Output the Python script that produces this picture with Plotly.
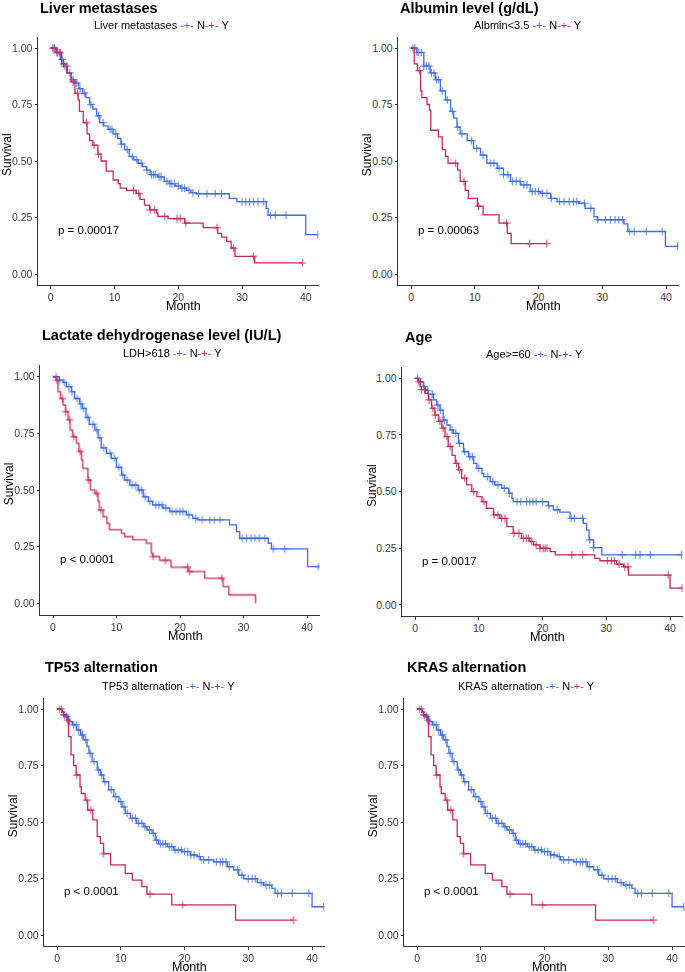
import numpy as np
import plotly.graph_objects as go

W, H = 685, 972
BLUE = "#3e6ee0"
RED = "#c32a5b"
FONT = "Liberation Sans"

# ---------------- data ----------------
titles = ["Liver metastases", "Albumin level (g/dL)", "Lactate dehydrogenase level (IU/L)",
          "Age", "TP53 alternation", "KRAS alternation"]
legend_titles = ["Liver metastases", "Albmin<3.5", "LDH>618", "Age>=60",
                 "TP53 alternation", "KRAS alternation"]
group_labels = ["N", "Y"]
pvalues = ["p = 0.00017", "p = 0.00063", "p < 0.0001", "p = 0.0017", "p < 0.0001", "p < 0.0001"]
x_ticks = [0, 10, 20, 30, 40]
y_ticks = [0.0, 0.25, 0.5, 0.75, 1.0]

# Liver metastases
liver_N_t = [0, 0.8, 1.5, 2.0, 2.6, 3.2, 3.8, 4.4, 5.0, 5.5, 6.1, 6.6, 7.2, 7.7, 8.3, 9.0, 9.8, 10.5, 11.0,
             11.6, 12.3, 13.0, 13.7, 14.4, 15.0, 15.6, 16.8, 17.8, 18.6, 19.5, 20.4, 21.3, 22.0, 22.8, 28.0,
             29.2, 33.8, 34.1, 40.0]
liver_N_s = [1, 0.98, 0.95, 0.92, 0.89, 0.86, 0.845, 0.82, 0.80, 0.78, 0.75, 0.73, 0.70, 0.67, 0.655, 0.64,
             0.62, 0.60, 0.575, 0.55, 0.52, 0.505, 0.49, 0.475, 0.46, 0.44, 0.43, 0.41, 0.40, 0.39, 0.38, 0.37,
             0.36, 0.355, 0.335, 0.32, 0.29, 0.26, 0.174]
liver_N_cens = [0.3, 0.6, 1.0, 1.3, 1.8, 2.2, 2.5, 3.0, 3.5, 4.1, 4.6, 5.3, 6.3, 7.5, 8.2, 9.3, 9.6, 10.2, 11.1,
                12.0, 12.8, 13.5, 14.2, 15.1, 15.8, 16.1, 16.4, 17.0, 17.3, 18.2, 18.7, 19.0, 19.4, 20.0, 20.6,
                21.0, 21.7, 22.3, 23.2, 24.5, 25.8, 26.8, 30.0, 30.6, 31.2, 31.8, 32.5, 33.4, 34.5, 35.2, 36.9,
                41.9]
liver_Y_t = [0, 0.9, 1.7, 2.5, 3.2, 3.8, 4.3, 4.5, 5.1, 5.7, 6.1, 6.6, 7.4, 7.9, 8.7, 9.8, 10.6, 10.9, 11.9,
             13.4, 14.0, 14.7, 15.5, 16.6, 16.8, 18.4, 21.0, 23.9, 26.2, 26.8, 27.6, 28.3, 28.9, 32.0]
liver_Y_s = [1, 0.98, 0.93, 0.89, 0.85, 0.80, 0.77, 0.72, 0.67, 0.62, 0.59, 0.57, 0.53, 0.50, 0.455, 0.416,
             0.40, 0.38, 0.37, 0.357, 0.33, 0.305, 0.284, 0.27, 0.255, 0.245, 0.225, 0.205, 0.18, 0.163,
             0.144, 0.115, 0.078, 0.049]
liver_Y_cens = [0.5, 1.0, 1.5, 2.0, 3.5, 4.2, 5.6, 6.8, 7.5, 13.0, 13.8, 15.6, 16.3, 17.9, 19.8, 20.3, 21.2,
                26.1, 28.7, 31.8, 39.5]

# Albumin
alb_N_t = [0, 0.9, 2.0, 3.0, 3.8, 4.6, 5.4, 6.2, 6.7, 7.2, 7.7, 8.8, 9.8, 10.9, 11.9, 13.5, 14.5, 15.6, 17.2,
           18.7, 20.3, 21.9, 22.9, 26.3, 27.3, 28.7, 29.2, 33.4, 34.0, 39.9]
alb_N_s = [1, 0.98, 0.92, 0.89, 0.86, 0.81, 0.77, 0.72, 0.69, 0.65, 0.62, 0.59, 0.556, 0.526, 0.49, 0.468,
           0.44, 0.41, 0.394, 0.365, 0.357, 0.335, 0.32, 0.313, 0.29, 0.254, 0.24, 0.222, 0.188, 0.122]
alb_N_cens = [0.3, 0.6, 0.9, 1.2, 1.6, 2.0, 2.4, 2.8, 3.2, 3.6, 4.0, 4.3, 4.9, 5.7, 6.5, 7.3, 8.0, 9.5, 10.3,
              11.3, 12.5, 13.0, 13.8, 14.5, 15.2, 15.9, 16.5, 17.1, 17.7, 18.2, 19.0, 19.5, 20.0, 20.6, 21.3,
              22.0, 23.3, 24.0, 24.8, 25.5, 26.0, 27.2, 28.2, 29.3, 30.5, 31.3, 32.0, 32.6, 33.2, 34.3, 35.0,
              36.9, 39.4, 41.8]
alb_Y_t = [0, 0.5, 1.0, 1.5, 1.7, 2.5, 2.9, 3.1, 4.3, 4.9, 5.4, 5.8, 7.3, 7.7, 8.5, 9.0, 10.4, 11.3, 13.8,
           15.1, 15.7]
alb_Y_s = [1, 0.93, 0.90, 0.81, 0.78, 0.75, 0.725, 0.636, 0.607, 0.55, 0.52, 0.49, 0.46, 0.41, 0.37, 0.335,
           0.30, 0.262, 0.225, 0.18, 0.134]
alb_Y_cens = [1.3, 7.0, 8.3, 10.6, 15.0, 18.6, 21.3]

# LDH
ldh_N_t = [0, 1.0, 1.6, 2.1, 2.9, 3.4, 4.2, 4.6, 5.2, 5.7, 6.6, 7.1, 7.6, 8.4, 9.2, 10.0, 10.8, 11.3, 12.1,
           13.4, 14.2, 15.0, 15.7, 17.3, 18.4, 21.0, 22.0, 22.8, 27.8, 28.9, 29.4, 33.9, 34.4, 40.1]
ldh_N_s = [1, 0.985, 0.975, 0.956, 0.934, 0.904, 0.88, 0.86, 0.82, 0.79, 0.765, 0.73, 0.686, 0.662, 0.64, 0.60,
           0.566, 0.544, 0.522, 0.50, 0.47, 0.45, 0.434, 0.42, 0.405, 0.39, 0.375, 0.368, 0.346, 0.316, 0.287,
           0.265, 0.24, 0.162]
ldh_N_cens = [0.5, 1.0, 1.8, 2.5, 3.0, 3.8, 4.4, 4.8, 5.5, 6.3, 6.9, 7.4, 8.0, 9.0, 9.7, 10.4, 11.0, 11.7, 12.5,
              13.0, 13.6, 14.0, 14.5, 15.3, 16.2, 16.7, 17.2, 17.8, 18.8, 19.4, 20.0, 20.5, 21.4, 22.5, 23.5,
              24.7, 25.4, 26.3, 29.8, 30.5, 31.2, 31.8, 32.5, 33.4, 34.7, 36.5, 41.8]
ldh_Y_t = [0, 0.5, 0.8, 1.2, 1.6, 2.0, 2.4, 2.7, 3.1, 3.7, 4.1, 4.5, 4.7, 5.5, 5.9, 6.6, 7.1, 7.3, 7.9, 8.5,
           8.9, 10.8, 11.3, 12.6, 14.7, 15.5, 15.7, 16.8, 18.6, 21.3, 23.9, 26.8, 27.7, 31.9]
ldh_Y_s = [1, 0.985, 0.934, 0.904, 0.875, 0.845, 0.81, 0.765, 0.735, 0.706, 0.67, 0.632, 0.596, 0.544, 0.50,
           0.485, 0.45, 0.412, 0.382, 0.353, 0.324, 0.309, 0.294, 0.28, 0.265, 0.22, 0.206, 0.19, 0.159, 0.14,
           0.11, 0.074, 0.037, 0.0]
ldh_Y_cens = [0.6, 1.5, 2.0, 2.6, 3.3, 4.3, 5.6, 6.9, 7.6, 15.8, 17.7, 21.2, 21.5, 26.6]

# Age
age_N_t = [0, 0.8, 1.3, 1.6, 2.1, 2.9, 3.4, 3.9, 4.4, 5.0, 5.5, 6.0, 6.8, 7.6, 8.4, 9.2, 9.7, 10.5, 10.8,
           11.8, 12.5, 13.6, 14.7, 15.2, 15.4, 20.9, 21.7, 22.7, 24.3, 26.4, 26.9, 27.3, 28.0, 29.3, 34.0]
age_N_s = [1, 0.985, 0.963, 0.946, 0.93, 0.905, 0.882, 0.86, 0.816, 0.794, 0.772, 0.757, 0.713, 0.676, 0.654,
           0.625, 0.603, 0.58, 0.566, 0.544, 0.53, 0.515, 0.493, 0.47, 0.456, 0.437, 0.42, 0.41, 0.382, 0.36,
           0.33, 0.287, 0.253, 0.221, 0.221]
age_N_cens = [0.4, 0.9, 1.4, 2.0, 2.7, 3.6, 4.0, 4.6, 5.8, 6.4, 7.0, 7.8, 8.6, 9.0, 10.0, 11.4, 12.2, 13.0,
              14.0, 14.8, 16.0, 16.6, 17.5, 18.0, 18.5, 19.0, 20.0, 21.0, 22.3, 24.5, 25.0, 26.3, 27.4, 28.0,
              32.5, 34.6, 35.3, 36.9, 41.8]
age_Y_t = [0, 0.5, 0.8, 1.0, 1.6, 2.1, 2.6, 3.1, 3.7, 4.2, 4.7, 5.2, 5.8, 6.3, 6.8, 7.3, 8.1, 8.9, 9.7, 10.5,
           11.2, 12.3, 13.3, 14.4, 15.4, 16.7, 18.0, 18.6, 19.6, 21.2, 22.0, 28.2, 29.0, 31.6, 32.7, 33.5, 40.0]
age_Y_s = [1, 0.985, 0.963, 0.95, 0.934, 0.905, 0.868, 0.838, 0.81, 0.78, 0.743, 0.70, 0.66, 0.625, 0.596,
           0.56, 0.53, 0.50, 0.478, 0.456, 0.426, 0.397, 0.382, 0.346, 0.316, 0.294, 0.28, 0.265, 0.25, 0.235,
           0.221, 0.206, 0.195, 0.18, 0.168, 0.132, 0.074]
age_Y_cens = [0.6, 1.0, 1.5, 2.2, 2.8, 3.2, 3.9, 4.4, 5.0, 5.5, 6.5, 7.0, 7.8, 9.2, 10.8, 12.4, 13.0, 13.6,
              14.1, 15.5, 16.3, 17.0, 17.5, 17.8, 18.3, 19.0, 19.6, 20.1, 20.4, 20.7, 24.6, 26.3, 30.2, 30.8,
              31.3, 32.0, 32.9, 33.4, 39.7, 41.9]

# TP53
tp53_N_t = [0, 0.8, 1.0, 1.3, 1.8, 2.4, 3.1, 3.7, 4.2, 4.7, 5.0, 5.5, 6.3, 6.8, 7.3, 8.1, 8.9, 9.7, 10.2, 10.7,
            11.5, 12.5, 13.6, 14.1, 14.9, 15.4, 15.9, 17.3, 18.3, 19.6, 20.9, 22.0, 22.5, 24.6, 26.7, 27.7,
            28.5, 29.3, 31.4, 32.4, 33.7, 34.2, 40.0]
tp53_N_s = [1, 0.988, 0.975, 0.966, 0.944, 0.93, 0.907, 0.885, 0.863, 0.834, 0.804, 0.767, 0.73, 0.708, 0.678,
            0.642, 0.612, 0.59, 0.567, 0.538, 0.516, 0.494, 0.479, 0.465, 0.45, 0.42, 0.403, 0.391, 0.376,
            0.369, 0.354, 0.347, 0.332, 0.324, 0.302, 0.288, 0.265, 0.248, 0.232, 0.221, 0.206, 0.184, 0.125]
tp53_N_cens = [0.4, 0.7, 1.1, 1.5, 2.0, 2.6, 3.0, 3.4, 3.9, 4.0, 4.5, 5.2, 5.8, 6.5, 7.0, 7.5, 8.5, 9.2, 10.0,
               10.5, 11.0, 11.8, 12.3, 12.8, 13.3, 13.8, 14.5, 15.1, 15.6, 16.2, 16.6, 17.0, 17.6, 18.0, 18.5,
               19.0, 19.5, 20.0, 20.5, 21.0, 21.5, 22.3, 23.0, 23.8, 25.0, 25.6, 26.0, 26.5, 27.0, 28.3, 29.0,
               30.0, 30.6, 31.1, 32.0, 32.8, 33.3, 34.6, 35.2, 36.9, 39.5, 41.8]
tp53_Y_t = [0, 0.8, 1.0, 1.6, 1.8, 2.2, 2.6, 3.0, 3.6, 3.8, 4.4, 4.8, 5.6, 6.3, 6.8, 7.3, 8.4, 10.7, 11.8, 13.3,
            14.1, 18.0, 28.0]
tp53_Y_s = [1, 0.985, 0.973, 0.951, 0.878, 0.797, 0.75, 0.708, 0.656, 0.626, 0.597, 0.553, 0.509, 0.435,
            0.405, 0.36, 0.31, 0.273, 0.243, 0.214, 0.181, 0.133, 0.066]
tp53_Y_cens = [1.2, 1.7, 3.1, 4.7, 5.3, 7.3, 14.6, 19.7, 37.1]

# KRAS (same values)
kras_N_t = list(tp53_N_t)
kras_N_s = list(tp53_N_s)
kras_N_cens = list(tp53_N_cens)
kras_Y_t = list(tp53_Y_t)
kras_Y_s = list(tp53_Y_s)
kras_Y_cens = list(tp53_Y_cens)

series = [
    ((liver_N_t, liver_N_s, liver_N_cens), (liver_Y_t, liver_Y_s, liver_Y_cens)),
    ((alb_N_t, alb_N_s, alb_N_cens), (alb_Y_t, alb_Y_s, alb_Y_cens)),
    ((ldh_N_t, ldh_N_s, ldh_N_cens), (ldh_Y_t, ldh_Y_s, ldh_Y_cens)),
    ((age_N_t, age_N_s, age_N_cens), (age_Y_t, age_Y_s, age_Y_cens)),
    ((tp53_N_t, tp53_N_s, tp53_N_cens), (tp53_Y_t, tp53_Y_s, tp53_Y_cens)),
    ((kras_N_t, kras_N_s, kras_N_cens), (kras_Y_t, kras_Y_s, kras_Y_cens)),
]

# ---------------- layout (pixel boxes: left, right, top, bottom) ----------------
boxes = [
    (38.0, 318.5, 36.7, 285.3),
    (398.3, 678.8, 36.7, 285.3),
    (40.3, 319.7, 365.4, 614.6),
    (402.3, 682.8, 367.0, 616.3),
    (44.3, 324.8, 697.7, 946.3),
    (404.3, 684.8, 697.7, 946.3),
]
title_pos = [(38, 8), (398, 8), (40, 335), (403, 337), (43, 667), (405, 667)]
legend_pos = [(162, 25), (528, 25), (172, 353), (534, 354), (168, 686), (526, 686)]


def px_x(v):
    return v / W


def px_y(v):
    return 1 - v / H


def step_curve(t, s, cens):
    t = list(t)
    s = list(s)
    end = max(cens) if cens else t[-1]
    if end > t[-1] and s[-1] > 0:
        t.append(end)
        s.append(s[-1])
    return t, s


def censor_y(t, s, cens):
    t = np.asarray(t, float)
    s = np.asarray(s, float)
    idx = np.searchsorted(t, np.asarray(cens, float), side="right") - 1
    return s[idx]


fig = go.Figure()
annotations = []

for i, (box, ser) in enumerate(zip(boxes, series)):
    k = i + 1
    xa = "x" if k == 1 else f"x{k}"
    ya = "y" if k == 1 else f"y{k}"
    for (t, s, cens), col in zip(ser, [BLUE, RED]):
        tx, sy = step_curve(t, s, cens)
        fig.add_trace(go.Scatter(x=tx, y=sy, mode="lines", line=dict(color=col, width=1.3, shape="hv"),
                                 xaxis=xa, yaxis=ya, showlegend=False, hoverinfo="skip"))
        fig.add_trace(go.Scatter(x=cens, y=censor_y(t, s, cens), mode="markers",
                                 marker=dict(symbol="cross-thin", size=5.5, color=col,
                                             line=dict(color=col, width=1.2)),
                                 opacity=0.75, xaxis=xa, yaxis=ya, showlegend=False, hoverinfo="skip"))
    l, r, top, bot = box
    axis_common = dict(showline=True, linecolor="#333333", linewidth=1, ticks="outside", ticklen=2.5,
                       tickcolor="#333333", tickwidth=1, showgrid=False, zeroline=False,
                       tickfont=dict(family=FONT, size=10.5, color="#3a3a3a"))
    fig.layout[f"xaxis{k if k > 1 else ''}"] = dict(domain=[px_x(l), px_x(r)], range=[-2, 42],
                                                    anchor=ya, tickvals=x_ticks, **axis_common)
    fig.layout[f"yaxis{k if k > 1 else ''}"] = dict(domain=[px_y(bot), px_y(top)], range=[-0.05, 1.05],
                                                    anchor=xa, tickvals=y_ticks, tickformat=".2f",
                                                    **axis_common)
    # title
    tx_, ty_ = title_pos[i]
    annotations.append(dict(text=f"<b>{titles[i]}</b>", x=px_x(tx_), y=px_y(ty_), xref="paper", yref="paper",
                            xanchor="left", yanchor="middle", showarrow=False,
                            font=dict(family=FONT, size=14.5, color="black")))
    # legend
    lx, ly = legend_pos[i]
    leg = (f"{legend_titles[i]} <span style='color:{BLUE}'>-+-</span> {group_labels[0]}"
           f"<span style='color:{RED}'>-+-</span> {group_labels[1]}")
    annotations.append(dict(text=leg, x=px_x(lx), y=px_y(ly), xref="paper", yref="paper",
                            xanchor="center", yanchor="middle", showarrow=False,
                            font=dict(family=FONT, size=11, color="black")))
    # axis titles
    annotations.append(dict(text="Survival", x=px_x(l - 31), y=px_y((top + bot) / 2 - 6), xref="paper",
                            yref="paper", textangle=-90, xanchor="center", yanchor="middle", showarrow=False,
                            font=dict(family=FONT, size=12, color="black")))
    annotations.append(dict(text="Month", x=px_x((l + r) / 2 + 5), y=px_y(bot + 21), xref="paper",
                            yref="paper", xanchor="center", yanchor="middle", showarrow=False,
                            font=dict(family=FONT, size=12.5, color="black")))
    # p-value
    annotations.append(dict(text=pvalues[i], x=0.8, y=0.195, xref=xa, yref=ya, xanchor="left",
                            yanchor="middle", showarrow=False,
                            font=dict(family=FONT, size=11.5, color="black")))

fig.update_layout(width=W, height=H, margin=dict(l=0, r=0, t=0, b=0), plot_bgcolor="white",
                  paper_bgcolor="white", annotations=annotations, showlegend=False)
fig.write_html("out.html", config={"displayModeBar": False},
               post_script="document.body.style.margin='0';document.body.style.overflow='hidden';")
